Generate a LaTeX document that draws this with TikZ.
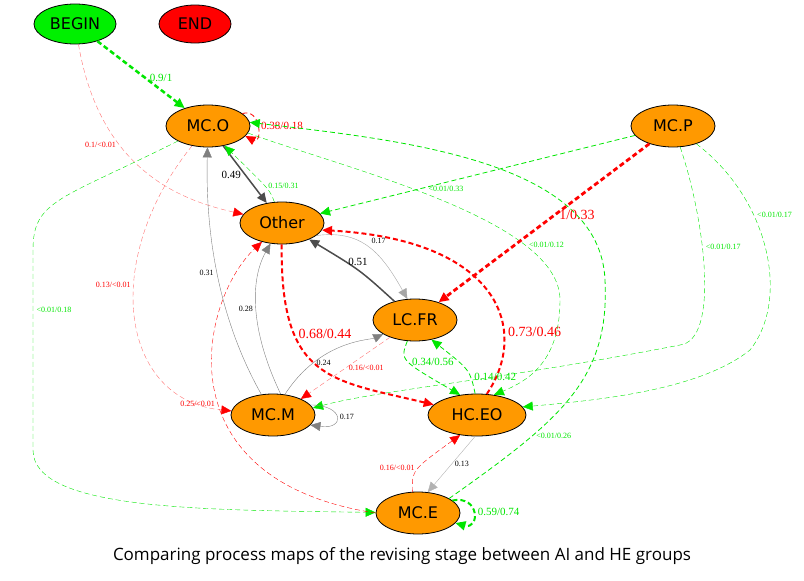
\documentclass[tikz,border=0pt]{standalone}
\usepackage{fontspec}
\setmainfont{Liberation Serif}
\newfontfamily\nodefont{DejaVu Sans}
\newfontfamily\capfont{Open Sans}
\usetikzlibrary{arrows.meta,shapes.geometric}
\definecolor{gg}{RGB}{0,230,0}
\begin{document}
\begin{tikzpicture}[x=1pt,y=-1pt,
  st/.style={ellipse,draw=black,thick,fill=orange!80!yellow,minimum width=84pt,minimum height=42pt,inner sep=0pt,font=\nodefont\fontsize{16}{16}\selectfont},
  e/.style={-{Triangle[length=10pt,width=9pt]}},
  dsh/.style={dash pattern=on 5pt off 3pt},
  grn/.style={e,draw=gg,dsh},
  rd/.style={e,draw=red,dsh},
  pk/.style={-{Triangle[length=10pt,width=9pt,fill=red,color=red]},draw=red!55,dsh},
  gr/.style={e,draw=gray},
  dg/.style={e,draw=black!70,line width=1.5pt},
  s/.style={font=\fontsize{8}{9}\selectfont},
  m/.style={font=\fontsize{11}{12}\selectfont},
  b/.style={font=\fontsize{14}{15}\selectfont},
  lg/.style={text=gg},
  lr/.style={text=red}]
\useasboundingbox (0,0) rectangle (804,581);
\node[st,fill={rgb,255:red,0;green,240;blue,0},minimum width=82pt,minimum height=40pt] (begin) at (75,24) {BEGIN};
\node[st,fill=red,minimum width=72pt,minimum height=38pt] (end) at (195,24) {END};
\node[st] (mco) at (208,126) {MC.O};
\node[st] (mcp) at (673,126) {MC.P};
\node[st] (oth) at (282,223) {Other};
\node[st] (lcfr) at (415,320) {LC.FR};
\node[st] (mcm) at (273,415) {MC.M};
\node[st,minimum width=98pt] (hceo) at (477,415) {HC.EO};
\node[st] (mce) at (418,513) {MC.E};
\node[font=\capfont\fontsize{17}{19}\selectfont] (cap) at (402,556) {Comparing process maps of the revising stage between AI and HE groups};

\draw[grn,line width=2.5pt] (begin) -- node[pos=0.55,right,m,lg]{0.9/1} (mco);
\draw[pk,thin] (begin) .. controls (100,170) and (180,200) .. node[pos=0.35,left,s,lr]{0.1/<0.01} (oth);
\draw[rd,thick] (mco.20) .. controls (262,108) and (262,145) .. node[pos=0.5,right,m,lr]{0.38/0.18} (mco.-15);
\draw[dg] (mco) -- node[pos=0.5,left,m]{0.49} (oth);
\draw[grn,thin] (oth) .. controls (270,190) .. node[pos=0.5,right,s,lg]{0.15/0.31} (mco.-50);
\draw[pk,thin] (mco) .. controls (100,260) and (120,400) .. node[pos=0.4,left,s,lr]{0.13/<0.01} (mcm);
\draw[grn,thin] (mco) .. controls (60,200) and (33,200) .. (33,250) -- node[pos=0.3,right,s,lg]{<0.01/0.18} (33,450) .. controls (33,510) and (200,510) .. (mce);
\draw[grn,thin] (mco.-10) .. controls (350,170) and (560,220) .. node[pos=0.75,right,s,lg]{<0.01/0.12} (560,300) .. controls (560,360) and (530,380) .. (hceo.50);
\draw[grn,thick] (mce.25) .. controls (560,420) and (610,380) .. node[pos=0.3,right,s,lg]{<0.01/0.26} (605,280) .. controls (600,160) and (400,140) .. (mco.5);
\draw[grn,thick] (mcp) -- node[pos=0.6,below,s,lg]{<0.01/0.33} (oth);
\draw[rd,line width=2.8pt] (mcp) -- node[pos=0.45,right,b,lr]{1/0.33} (lcfr);
\draw[grn,thin] (mcp) .. controls (705,220) and (720,340) .. node[pos=0.4,right,s,lg]{<0.01/0.17} (680,345) .. controls (500,380) and (380,390) .. (mcm.10);
\draw[grn,thin] (mcp) .. controls (770,200) and (790,300) .. node[pos=0.35,right,s,lg]{<0.01/0.17} (750,350) .. controls (700,390) and (600,400) .. (hceo.10);
\draw[gr,thin,draw=gray!70] (oth.-20) .. controls (360,230) and (380,250) .. node[pos=0.5,above right,s]{0.17} (lcfr.110);
\draw[dg] (lcfr) .. controls (360,270) .. node[pos=0.5,above,m]{0.51} (oth);
\draw[rd,line width=2pt] (oth) .. controls (280,380) and (330,380) .. node[pos=0.3,right,b,lr]{0.68/0.44} (hceo);
\draw[rd,line width=2pt] (hceo.65) .. controls (530,330) and (500,240) .. node[pos=0.3,right,b,lr]{0.73/0.46} (oth.-10);
\draw[gr] (mcm) .. controls (225,330) and (205,250) .. node[pos=0.55,left,s]{0.31} (mco);
\draw[gr] (mcm.70) .. controls (250,330) and (250,280) .. node[pos=0.5,left,s]{0.28} (oth);
\draw[gr] (mcm.60) .. controls (320,340) and (370,340) .. node[pos=0.25,right,s]{0.24} (lcfr);
\draw[pk,thin] (lcfr) -- node[pos=0.5,right,s,lr]{0.16/<0.01} (mcm.30);
\draw[grn,thick] (lcfr.-110) .. controls (400,360) .. node[pos=0.5,right,m,lg]{0.34/0.56} (hceo.130);
\draw[grn,thick] (hceo.95) .. controls (470,370) .. node[pos=0.3,right,m,lg]{0.14/0.42} (lcfr.-50);
\draw[gr,thin] (mcm.15) .. controls (345,405) and (345,430) .. node[pos=0.5,right,s]{0.17} (mcm.-15);
\draw[rd,thin] (mce.west) .. controls (160,480) and (200,300) .. node[pos=0.45,left,s,lr]{0.25/<0.01} (oth);
\draw[rd,thin] (mce.105) .. controls (412,470) .. node[pos=0.5,left,s,lr]{0.16/<0.01} (hceo.-130);
\draw[gr,thin,draw=gray!60] (hceo.-95) -- node[pos=0.5,right,s]{0.13} (mce.65);
\draw[grn,line width=2pt] (mce.20) .. controls (480,495) and (480,530) .. node[pos=0.5,right,m,lg]{0.59/0.74} (mce.-15);
\end{tikzpicture}
\end{document}
